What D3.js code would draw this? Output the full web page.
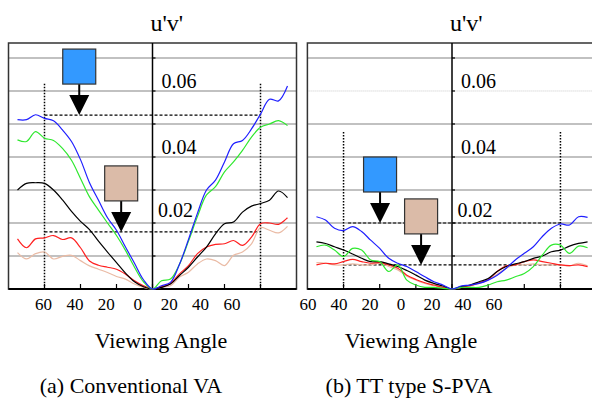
<!DOCTYPE html>
<html><head><meta charset="utf-8">
<script src="https://cdn.jsdelivr.net/npm/d3@7"></script>
<style>
html,body{margin:0;padding:0;background:#fff;}
</style></head>
<body>
<svg id="chart" width="592" height="401"></svg>
<script>
// ---- data ----
const angles = [-75,-70,-65,-60,-55,-50,-45,-40,-35,-30,-25,-20,-15,-10,-5,0,5,10,15,20,25,30,35,40,45,50,55,60,65,70,75];
const tickAngles = [-60,-40,-20,0,20,40,60];
const tickLabels = ["60","40","20","0","20","40","60"];
const gridValues = [0.01,0.02,0.03,0.04,0.05,0.06,0.07];
const labelValues = [0.02,0.04,0.06];
const seriesNames = ["tan","red","black","green","blue"];

// (a) Conventional VA
const vaBlue  = [0.0513,0.0513,0.0528,0.0517,0.0510,0.0482,0.0447,0.0392,0.0322,0.0269,0.0216,0.0178,0.0127,0.0078,0.0028,0,0.0010,0.0020,0.0075,0.0150,0.0230,0.0300,0.0330,0.0385,0.0440,0.0450,0.0485,0.0530,0.0575,0.0570,0.0615];
const vaGreen = [0.0452,0.0447,0.0477,0.0457,0.0450,0.0426,0.0390,0.0335,0.0279,0.0239,0.0200,0.0162,0.0117,0.0066,0.0022,0,0.0025,0.0030,0.0075,0.0145,0.0220,0.0285,0.0310,0.0355,0.0385,0.0420,0.0460,0.0490,0.0500,0.0510,0.0495];
const vaBlack = [0.0300,0.0320,0.0322,0.0320,0.0300,0.0270,0.0235,0.0205,0.0180,0.0145,0.0112,0.0080,0.0048,0.0022,0.0007,0,0.0005,0.0015,0.0041,0.0066,0.0097,0.0127,0.0167,0.0198,0.0203,0.0233,0.0251,0.0259,0.0269,0.0297,0.0277];
const vaRed   = [0.0152,0.0125,0.0152,0.0155,0.0162,0.0150,0.0155,0.0125,0.0085,0.0072,0.0066,0.0060,0.0045,0.0025,0.0010,0,0.0007,0.0017,0.0046,0.0071,0.0107,0.0127,0.0135,0.0137,0.0147,0.0132,0.0157,0.0198,0.0200,0.0196,0.0216];
const vaTan   = [0.0110,0.0091,0.0107,0.0112,0.0091,0.0099,0.0102,0.0086,0.0070,0.0060,0.0050,0.0038,0.0030,0.0015,0.0005,0,0.0005,0.0010,0.0036,0.0051,0.0076,0.0091,0.0086,0.0071,0.0102,0.0112,0.0137,0.0186,0.0178,0.0170,0.0190];
const vaGuides = [0.0527,0.0173];
const vaArrowAngles = [-40.7,-17.4];

// (b) TT type S-PVA
const pvaBlue  = [0.0219,0.0209,0.0184,0.0177,0.0189,0.0174,0.0148,0.0123,0.0093,0.0078,0.0068,0.0053,0.0037,0.0022,0.0012,0,0.0009,0.0012,0.0017,0.0027,0.0042,0.0063,0.0088,0.0108,0.0128,0.0159,0.0184,0.0197,0.0194,0.0219,0.0217];
const pvaGreen = [0.0128,0.0133,0.0118,0.0098,0.0123,0.0118,0.0088,0.0083,0.0053,0.0073,0.0027,0.0012,0.0005,0.0005,0.0002,0,0.0005,0.0005,0.0005,0.0012,0.0022,0.0027,0.0037,0.0047,0.0068,0.0103,0.0133,0.0133,0.0108,0.0130,0.0125];
const pvaBlack = [0.0143,0.0138,0.0128,0.0118,0.0106,0.0093,0.0083,0.0083,0.0076,0.0068,0.0056,0.0042,0.0027,0.0017,0.0009,0,0.0007,0.0012,0.0022,0.0032,0.0053,0.0068,0.0076,0.0083,0.0093,0.0100,0.0113,0.0118,0.0130,0.0138,0.0143];
const pvaRed   = [0.0073,0.0078,0.0076,0.0083,0.0090,0.0083,0.0078,0.0080,0.0073,0.0063,0.0042,0.0029,0.0019,0.0012,0.0005,0,0.0005,0.0010,0.0019,0.0029,0.0053,0.0070,0.0073,0.0083,0.0088,0.0083,0.0078,0.0073,0.0071,0.0073,0.0068];
const pvaTan   = [0.0080,0.0078,0.0073,0.0073,0.0076,0.0073,0.0073,0.0078,0.0068,0.0058,0.0039,0.0027,0.0017,0.0010,0.0005,0,0.0005,0.0009,0.0017,0.0027,0.0045,0.0063,0.0073,0.0073,0.0076,0.0073,0.0073,0.0073,0.0070,0.0078,0.0070];
const pvaGuides = [0.02,0.0073];
const pvaArrowAngles = [-39.8,-17.1];

// ---- drawing ----
const FONT = `"Liberation Serif", "Times New Roman", Tinos, monospace`;
const colors = {blue:"#1f1fff", green:"#2ee82e", black:"#000000", red:"#ff1f1f", tan:"#eabba5"};
const boxFills = ["#3399ff","#dbbba8"];
const svg = d3.select("#chart");

const panels = [
  {x0:8.5, x1:296.5, lblRange:[43.5,232], titleCx:131, axisTitleCx:161, caption:"(a) Conventional VA",
   data:{blue:vaBlue,green:vaGreen,black:vaBlack,red:vaRed,tan:vaTan},
   guides:vaGuides, arrows:vaArrowAngles, guideStart:[-60,-60], vTop:0.0622, dottedGrid:false},
  {x0:307.4, x1:596.6, lblRange:[308,494], titleCx:409, axisTitleCx:411, caption:"(b) TT type S-PVA",
   data:{blue:pvaBlue,green:pvaGreen,black:pvaBlack,red:pvaRed,tan:pvaTan},
   guides:pvaGuides, arrows:pvaArrowAngles, guideStart:[-57.5,-60], vTop:0.0476, dottedGrid:true}
];

const y = d3.scaleLinear().domain([0,0.07454]).range([289,43]);

panels.forEach(p => {
  const x = d3.scaleLinear().domain([-80,80]).range([p.x0,p.x1]);
  const xl = d3.scaleLinear().domain([-60,60]).range(p.lblRange);
  const g = svg.append("g");
  const cx = x(0);

  // gridlines
  g.selectAll("line.grid").data(gridValues).join("line")
    .attr("x1",p.x0).attr("x2",p.x1)
    .attr("y1",d=>y(d)).attr("y2",d=>y(d))
    .attr("stroke",d=> (p.dottedGrid && d===0.06) ? "#c8c8c8" : "#acacac")
    .attr("stroke-width",d=> (p.dottedGrid && d===0.06) ? 1 : 1.5)
    .attr("stroke-dasharray",d=> (p.dottedGrid && d===0.06) ? "1,1" : null);

  // frame
  g.append("rect").attr("x",p.x0).attr("y",y.range()[1]).attr("width",p.x1-p.x0).attr("height",y.range()[0]-y.range()[1])
    .attr("fill","none").attr("stroke","#333").attr("stroke-width",1.5);
  g.append("line").attr("x1",p.x0).attr("x2",p.x1).attr("y1",289).attr("y2",289).attr("stroke","#000").attr("stroke-width",2);

  // center axis
  g.append("line").attr("x1",cx).attr("x2",cx).attr("y1",43).attr("y2",289).attr("stroke","#000").attr("stroke-width",1.5);
  g.selectAll("line.ytick").data(gridValues).join("line")
    .attr("x1",cx).attr("x2",cx+3).attr("y1",d=>y(d)).attr("y2",d=>y(d)).attr("stroke","#000").attr("stroke-width",1.2);
  // bottom ticks
  g.selectAll("line.xtick").data(tickAngles).join("line")
    .attr("x1",d=>x(d)).attr("x2",d=>x(d)).attr("y1",289).attr("y2",284).attr("stroke","#000").attr("stroke-width",1.2);

  // y labels
  g.selectAll("text.ylab").data(labelValues).join("text")
    .attr("x",d=> cx + (d===0.02 ? 5.5 : 9))
    .attr("y",d=> y(d) - (d===0.02 ? 6 : 2.7))
    .attr("font-size",20).attr("fill","#000").style("font-family",FONT)
    .text(d=>d3.format(".2f")(d));

  // dotted verticals at ±60
  g.selectAll("line.vdot").data([-60,60]).join("line")
    .attr("x1",d=>x(d)).attr("x2",d=>x(d)).attr("y1",y(p.vTop)).attr("y2",289)
    .attr("stroke","#000").attr("stroke-width",1.5).attr("stroke-dasharray","1.5,1.5");

  // dashed guides
  g.selectAll("line.guide").data(p.guides).join("line")
    .attr("x1",(d,i)=>x(p.guideStart[i])).attr("x2",x(60))
    .attr("y1",d=>y(d)).attr("y2",d=>y(d))
    .attr("stroke","#000").attr("stroke-width",1.2).attr("stroke-dasharray","3,2");

  // curves
  const line = d3.line().x((d,i)=>x(angles[i])).y(d=>y(d)).curve(d3.curveCatmullRom.alpha(0.5));
  seriesNames.forEach(name => {
    g.append("path").datum(p.data[name]).attr("d",line)
      .attr("fill","none").attr("stroke",colors[name]).attr("stroke-width",1.2);
  });

  // arrow markers
  p.guides.forEach((v,i) => {
    const ax = x(p.arrows[i]), ay = y(v);
    const boxBottom = ay - 31, headTop = ay - 20;
    g.append("line").attr("x1",ax).attr("x2",ax).attr("y1",boxBottom).attr("y2",headTop+1)
      .attr("stroke","#000").attr("stroke-width",2);
    g.append("path").attr("d",`M${ax-10},${headTop}L${ax+10},${headTop}L${ax},${ay}Z`).attr("fill","#000");
    g.append("rect").attr("x",ax-16.5).attr("y",boxBottom-35).attr("width",33).attr("height",35)
      .attr("fill",boxFills[i]).attr("stroke","#333").attr("stroke-width",1.2);
  });

  // tick labels
  g.selectAll("text.xlab").data(tickAngles).join("text")
    .attr("x",d=>xl(d)).attr("y",310).attr("text-anchor","middle").attr("font-size",17).style("font-family",FONT)
    .text((d,i)=>tickLabels[i]);

  // titles
  g.append("text").attr("x",cx-2).attr("y",31).attr("font-size",24).style("font-family",FONT).text("u'v'");
  g.append("text").attr("x",p.axisTitleCx).attr("y",348).attr("text-anchor","middle").attr("font-size",22).style("font-family",FONT).text("Viewing Angle");
  g.append("text").attr("x",p.titleCx).attr("y",393).attr("text-anchor","middle").attr("font-size",22).style("font-family",FONT).text(p.caption);
});
</script>
</body></html>
